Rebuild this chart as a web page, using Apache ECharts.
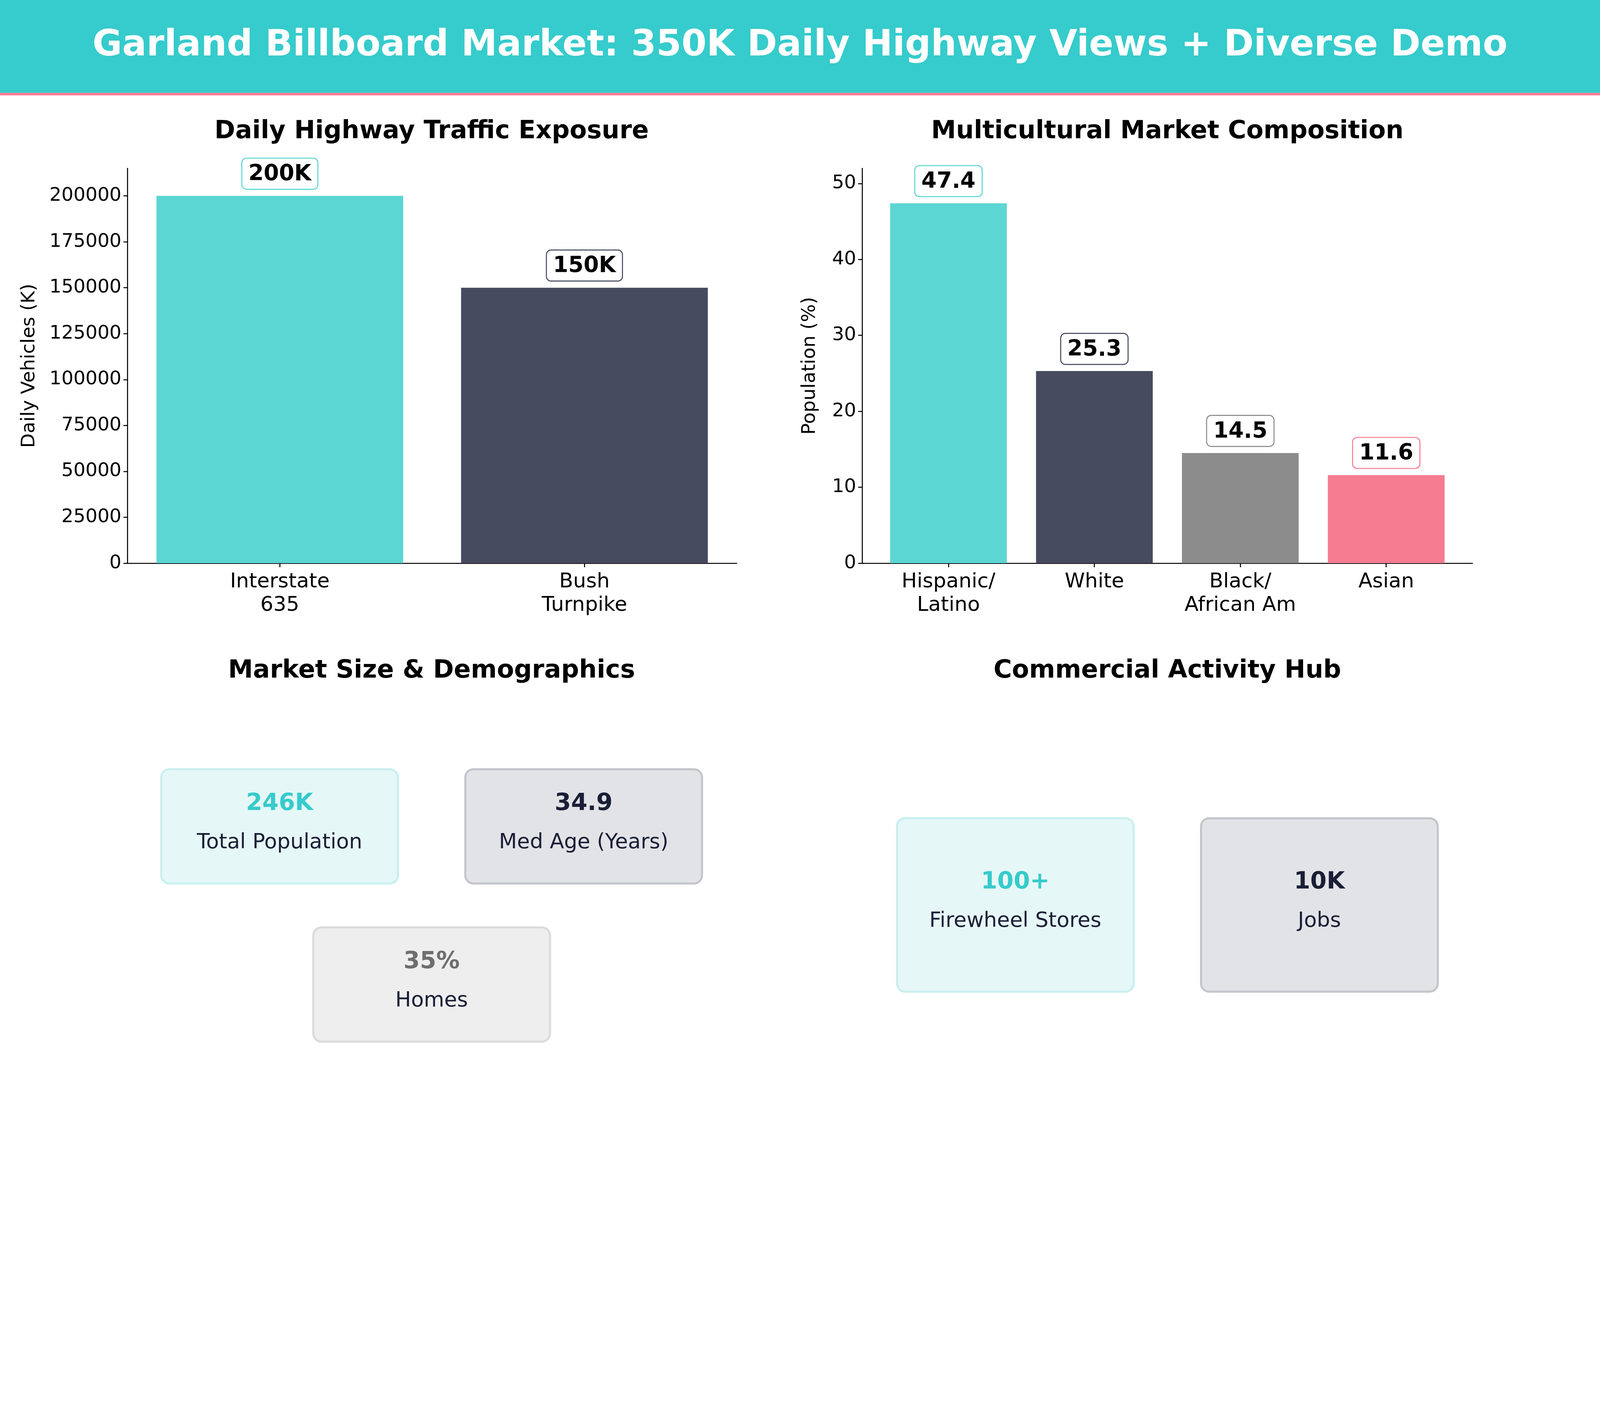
<!DOCTYPE html>
<html><head><meta charset="utf-8">
<script src="https://cdn.jsdelivr.net/npm/echarts@6/dist/echarts.min.js"></script>
<style>html,body{margin:0;padding:0;background:#fff;overflow:hidden}#c{width:100vw;height:100vh}</style>
</head><body><div id="c"></div>
<script>
const highways = ['Interstate\n635', 'Bush\nTurnpike'];
const traffic = [200000, 150000];
const trafficLabels = ['200K', '150K'];
const groups = ['Hispanic/\nLatino', 'White', 'Black/\nAfrican Am', 'Asian'];
const popPct = [47.4, 25.3, 14.5, 11.6];
const colors = ['#5CD6D3', '#464B60', '#8C8C8C', '#F67C91'];
const marketStats = [['246K','Total Population'],['34.9','Med Age (Years)'],['35%','Homes']];
const commerceStats = [['100+','Firewheel Stores'],['10K','Jobs']];

const W = window.innerWidth;
const s = W/1568;
const f = v => v*s;
const F = 'DejaVu Sans';
const chart = echarts.init(document.getElementById('c'));
function grid(l,r){return {left:l*s,width:(r-l)*s,top:165*s,height:387*s};}
const axLine={show:true,lineStyle:{color:'#000',width:f(1)}};
const axTick={show:true,alignWithLabel:true,length:f(4),lineStyle:{color:'#000',width:f(1)}};
function lbl(color,fmt){return {show:true,position:'top',distance:f(7),formatter:fmt,fontFamily:F,fontWeight:'bold',fontSize:f(21.5),color:'#000',backgroundColor:'#fff',borderColor:color,borderWidth:f(1),borderRadius:f(4),padding:[f(5),f(6),f(3),f(6)]};}
const g=[];
g.push({type:'rect',shape:{x:0,y:0,width:W,height:91*s},style:{fill:'#36CBCC'}});
g.push({type:'rect',shape:{x:0,y:91*s,width:W,height:2.5*s},style:{fill:'#F67C91'}});
g.push({type:'text',x:784*s,y:45*s,style:{text:'Garland Billboard Market: 350K Daily Highway Views + Diverse Demo',fill:'#fff',font:'bold '+f(35.4)+'px "DejaVu Sans"',textAlign:'center',textVerticalAlign:'middle'}});
const titles=[['Daily Highway Traffic Exposure',423,129],['Multicultural Market Composition',1144,129],['Market Size & Demographics',423,658],['Commercial Activity Hub',1144,658]];
titles.forEach(t=>g.push({type:'text',x:t[1]*s,y:t[2]*s,style:{text:t[0],fill:'#000',font:'bold '+f(24.5)+'px "DejaVu Sans"',textAlign:'center',textVerticalAlign:'middle'}}));
function box(x0,y0,x1,y1,fill,stroke,val,valColor,lab){
  g.push({type:'rect',shape:{x:x0*s,y:y0*s,width:(x1-x0)*s,height:(y1-y0)*s,r:8*s},style:{fill:fill,stroke:stroke,lineWidth:2*s}});
  const cy=(y0+y1)/2;
  g.push({type:'text',x:(x0+x1)/2*s,y:(cy-22)*s,style:{text:val,fill:valColor,font:'bold '+f(23)+'px "DejaVu Sans"',textAlign:'center',textVerticalAlign:'middle'}});
  g.push({type:'text',x:(x0+x1)/2*s,y:(cy+16)*s,style:{text:lab,fill:'#1A1F36',font:f(20.5)+'px "DejaVu Sans"',textAlign:'center',textVerticalAlign:'middle'}});
}
box(158,754,390,866,'#E6F7F7','#C8EFEF',marketStats[0][0],'#36CBCC',marketStats[0][1]);
box(456,754,688,866,'#E2E3E7','#C4C5CC',marketStats[1][0],'#1A1F36',marketStats[1][1]);
box(307,909,539,1021,'#EEEEEE','#DADADA',marketStats[2][0],'#6E6E6E',marketStats[2][1]);
box(879,802,1111,972,'#E6F7F7','#C8EFEF',commerceStats[0][0],'#36CBCC',commerceStats[0][1]);
box(1177,802,1409,972,'#E2E3E7','#C4C5CC',commerceStats[1][0],'#1A1F36',commerceStats[1][1]);

function xAx(i,data,line){return {type:'category',gridIndex:i,data:data,axisLine:line?axLine:{show:false},axisTick:axTick,splitLine:{show:false},axisLabel:{color:'#000',fontFamily:F,fontSize:f(20),margin:f(7),lineHeight:f(23)}};}
function yAx(i,max,intv,name,gap,show){return {type:'value',gridIndex:i,min:0,max:max,interval:intv,show:show,name:name,nameLocation:'middle',nameGap:gap*s,nameTextStyle:{fontFamily:F,fontSize:f(18.5),color:'#000'},axisLine:axLine,axisTick:{show:true,length:f(4),lineStyle:{color:'#000',width:f(1)}},splitLine:{show:false},axisLabel:{color:'#000',fontFamily:F,fontSize:f(18.5),margin:f(6),showMaxLabel:false,formatter:v=>String(v)}};}

chart.setOption({
  animation:false,
  grid:[grid(125,722),grid(858,1430),grid(845,1443)],
  xAxis:[xAx(0,highways,true),xAx(1,groups,false),
    {type:'value',gridIndex:2,min:0,max:1,axisLine:axLine,axisTick:{show:false},axisLabel:{show:false},splitLine:{show:false}}],
  yAxis:[yAx(0,215000,25000,'Daily Vehicles (K)',87,true),yAx(1,52,10,'',42,false),yAx(2,52,10,'Population (%)',42,true)],
  series:[
    {type:'bar',xAxisIndex:0,yAxisIndex:0,barWidth:'81%',data:traffic.map((v,i)=>({value:v,itemStyle:{color:colors[i]},label:lbl(colors[i],trafficLabels[i])}))},
    {type:'bar',xAxisIndex:1,yAxisIndex:1,barWidth:'80%',data:popPct.map((v,i)=>({value:v,itemStyle:{color:colors[i]},label:lbl(colors[i],String(v))}))}
  ],
  graphic:g
});
</script></body></html>
